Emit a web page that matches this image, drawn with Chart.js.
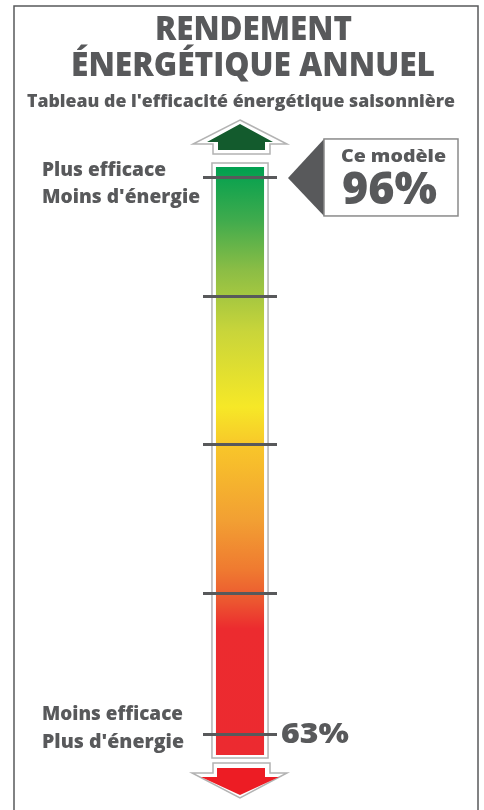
<!DOCTYPE html>
<html>
<head>
<meta charset="utf-8">
<script src="https://cdn.jsdelivr.net/npm/chart.js@4.4.1/dist/chart.umd.min.js"></script>
<style>
  html, body { margin: 0; padding: 0; background: #fff; }
  #wrap { width: 484px; height: 810px; position: relative; }
</style>
</head>
<body>
<div id="wrap"><canvas id="canvas_bar"></canvas></div>
<script>
// values
var categories = ['Rendement'];
var barRange = [61.8, 96.65];        // extent of the coloured bar
var tickValues = [63, 71.4, 80.2, 89, 96];
var modelValue = 96;
var minValue = 63;

var titleLines = ['RENDEMENT', 'ÉNERGÉTIQUE ANNUEL'];
var subTitle = "Tableau de l'efficacité énergétique saisonnière";
var topLabels = ['Plus efficace', "Moins d'énergie"];
var bottomLabels = ['Moins efficace', "Plus d'énergie"];
var calloutLabel = 'Ce modèle';

var GREY = '#58595b';
var FONT = '"Open Sans", "Noto Sans", sans-serif';

function gradFill(ctx) {
	var area = ctx.chart.chartArea;
	if (!area) return '#ec2a2f';
	var g = ctx.chart.ctx.createLinearGradient(0, area.top, 0, area.bottom);
	g.addColorStop(0, '#00a04f');
	g.addColorStop(0.09, '#3fab4d');
	g.addColorStop(0.175, '#8bbd45');
	g.addColorStop(0.28, '#c9d53a');
	g.addColorStop(0.408, '#f6e827');
	g.addColorStop(0.48, '#f8c42a');
	g.addColorStop(0.6, '#f2a033');
	g.addColorStop(0.685, '#ef7a30');
	g.addColorStop(0.74, '#ec5530');
	g.addColorStop(0.785, '#ec2b2f');
	g.addColorStop(1, '#ec2a30');
	return g;
}

function poly(c, pts, fill, stroke) {
	c.beginPath();
	c.moveTo(pts[0][0], pts[0][1]);
	for (var i = 1; i < pts.length; i++) c.lineTo(pts[i][0], pts[i][1]);
	c.closePath();
	if (fill) { c.fillStyle = fill; c.fill(); }
	if (stroke) { c.strokeStyle = stroke; c.lineWidth = 1.5; c.stroke(); }
}

// draw text at a given size, stretched to the width it has in the picture
function txt(c, s, x, y, size, align, w) {
	c.save();
	c.font = '800 ' + size + 'px ' + FONT;
	c.textAlign = align;
	c.textBaseline = 'alphabetic';
	c.fillStyle = GREY;
	var sx = w / c.measureText(s).width;
	c.translate(x, y);
	c.scale(sx, 1);
	c.fillText(s, 0, 0);
	c.restore();
}

var decorPlugin = {
	id: 'decor',
	beforeDraw: function(chart) {
		var c = chart.ctx;
		c.save();
		c.fillStyle = '#fff';
		c.fillRect(0, 0, chart.width, chart.height);
		// frame
		c.strokeStyle = GREY;
		c.lineWidth = 1.5;
		c.strokeRect(14, 6, 464, 820);
		// titles
		txt(c, titleLines[0], 253.5, 40, 33, 'center', 197);
		txt(c, titleLines[1], 253, 76, 33, 'center', 364);
		txt(c, subTitle, 241, 107, 18, 'center', 428);
		// side labels
		txt(c, topLabels[0], 42, 176, 19.5, 'left', 124);
		txt(c, topLabels[1], 42, 203, 19.5, 'left', 158);
		txt(c, bottomLabels[0], 42, 720, 19.5, 'left', 141);
		txt(c, bottomLabels[1], 42, 748, 19.5, 'left', 142);
		// bar outline
		var bar = chart.getDatasetMeta(0).data[0];
		if (bar) {
			var half = bar.width / 2;
			c.fillStyle = '#fff';
			c.strokeStyle = '#b3b3b3';
			c.lineWidth = 1.5;
			c.fillRect(bar.x - half - 4, bar.y - 4, bar.width + 8, bar.base - bar.y + 7);
			c.strokeRect(bar.x - half - 4, bar.y - 4, bar.width + 8, bar.base - bar.y + 7);
		}
		// arrows
		poly(c, [[240,120],[287,144],[270,144],[270,154],[213,154],[213,144],[193,144]], '#fff', '#b3b3b3');
		poly(c, [[240,124],[273,142],[265,142],[265,150],[218,150],[218,142],[207,142]], '#135b2d');
		poly(c, [[213,763],[270,763],[270,773],[287,773],[240,798],[192,773],[213,773]], '#fff', '#b3b3b3');
		poly(c, [[217,768],[265,768],[265,777],[279,777],[240,795],[201,777],[217,777]], '#ed1c24');
		c.restore();
	},
	afterDraw: function(chart) {
		var c = chart.ctx;
		var y = chart.scales.y;
		var yTop = y.getPixelForValue(modelValue);
		var yBot = y.getPixelForValue(minValue);
		c.save();
		// callout for this model
		poly(c, [[288,yTop],[324,yTop-39],[324,yTop+38]], GREY);
		c.fillStyle = '#fff';
		c.fillRect(324, yTop - 39, 134, 77);
		c.strokeStyle = '#8a8a8a';
		c.lineWidth = 1.5;
		c.strokeRect(324, yTop - 39, 134, 77);
		txt(c, calloutLabel, 393.5, yTop - 16, 18, 'center', 105);
		txt(c, modelValue + '%', 389.5, yTop + 26, 44, 'center', 95);
		// minimum value
		txt(c, minValue + '%', 281, yBot + 8, 29, 'left', 68);
		c.restore();
	}
};

var data = {
	labels: categories,
	datasets: [{
		data: [barRange],
		backgroundColor: gradFill,
		borderWidth: 0,
		barPercentage: 1,
		categoryPercentage: 0.65
	}]
};

var config = {
	type: 'bar',
	data: data,
	plugins: [decorPlugin],
	options: {
		responsive: true,
		maintainAspectRatio: false,
		animation: false,
		layout: { padding: { left: 203, right: 207, top: 167, bottom: 55 } },
		plugins: { legend: { display: false }, tooltip: { enabled: false } },
		scales: {
			x: { display: false },
			y: {
				min: barRange[0],
				max: barRange[1],
				afterBuildTicks: function(scale) {
					scale.ticks = tickValues.map(function(v) { return { value: v }; });
				},
				ticks: { display: false },
				border: { display: false },
				grid: { color: GREY, lineWidth: 3, drawTicks: false, z: 1 }
			}
		}
	}
};

var newchart = new Chart(document.getElementById('canvas_bar').getContext('2d'), config);
</script>
</body>
</html>
